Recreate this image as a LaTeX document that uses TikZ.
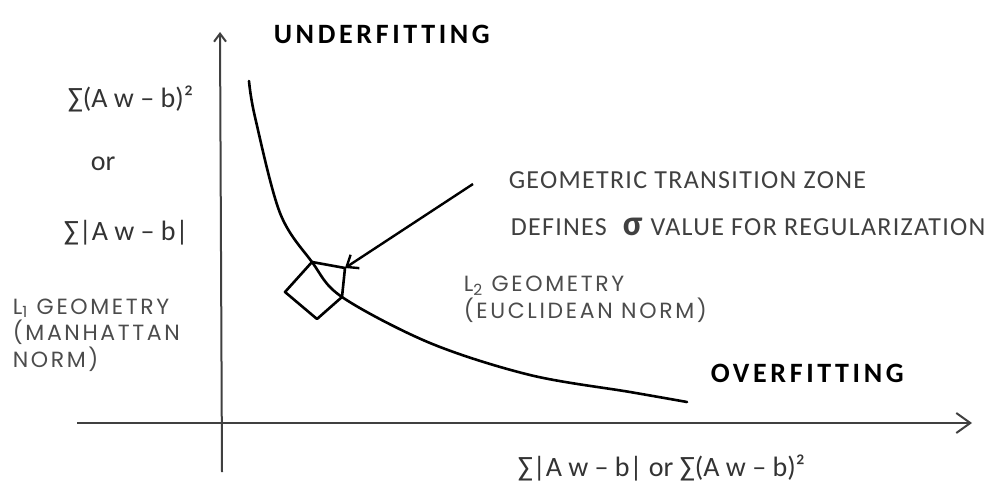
\documentclass[tikz,border=0pt]{standalone}
\usepackage{fontspec}
\setmainfont{Carlito}
\newfontfamily\geomfont{Poppins}
\usetikzlibrary{arrows.meta,positioning}

\begin{document}
\begin{tikzpicture}[x=0.5pt, y=-0.5pt, thick]
    % Stili
    \tikzstyle{axis}=[draw=black!75, line width=1pt]
    \tikzstyle{curve}=[draw=black, line width=1.3pt, line join=round, line cap=round]
    \tikzstyle{pointer}=[draw=black, line width=1.2pt, -{Straight Barb[length=5pt, width=8pt]}]
    \tikzstyle{bigtitle}=[inner sep=0pt, anchor=base west, font=\fontsize{14}{16}\selectfont\bfseries\addfontfeature{LetterSpace=13}]
    \tikzstyle{mathtext}=[inner sep=0pt, anchor=base west, text=black!80, font=\fontsize{14}{16}\selectfont]
    \tikzstyle{note}=[inner sep=0pt, anchor=base west, text=black!75, font=\fontsize{13}{15}\selectfont\addfontfeature{LetterSpace=5}]
    \tikzstyle{geomtext}=[inner sep=0pt, anchor=north west, align=left, text=black!70]

    \useasboundingbox (0,0) rectangle (1001,482);

    % Assi
    \coordinate (xstart) at (77,423);
    \coordinate (xend) at (972,423);
    \coordinate (ybot) at (222,472);
    \coordinate (ytop) at (220,32);
    \draw [axis, -{Straight Barb[length=7pt, width=10pt]}] (xstart) -- (xend);
    \draw [axis, -{Straight Barb[length=4pt, width=6pt]}] (ybot) -- (ytop);

    % Curva
    \draw [curve] plot [smooth, tension=0.55] coordinates {(249,81) (255,117) (280,213) (312,262) (342,297) (430,343) (530,375) (630,392) (687,402)};

    % Geometrie
    \coordinate (dtop) at (312,262);
    \coordinate (dleft) at (285,292);
    \coordinate (dbot) at (317,319);
    \coordinate (dright) at (342,297);
    \coordinate (corner) at (345,268);
    \draw [curve] (dtop) -- (dleft) -- (dbot) -- (dright);
    \draw [curve] (dtop) -- (corner) -- (dright);

    % Etichette
    \node (under) [bigtitle] at (273,43) {UNDERFITTING};
    \node (over) [bigtitle] at (710,382) {OVERFITTING};
    \node (sumsq) [mathtext] at (67,107) {∑(A w – b)²};
    \node (or) [mathtext] at (90,170) {or};
    \node (sumabs) [mathtext] at (63,240) {∑|A w – b|};
    \node (xlabel) [mathtext] at (517,476) {∑|A w – b| or  ∑(A w – b)²};
    \node (zone) [note] at (508,188) {GEOMETRIC TRANSITION ZONE};
    \node (sigma) [note] at (510,235) {DEFINES\hspace{8pt}{\fontsize{18}{18}\selectfont\bfseries σ}\hspace{4pt}VALUE FOR REGULARIZATION};
    \node (lone) [geomtext, font=\geomfont\fontsize{11}{12}\selectfont\addfontfeature{LetterSpace=12}] at (12,298) {L\textsubscript{1} GEOMETRY\\(MANHATTAN\\NORM)};
    \node (ltwo) [geomtext, font=\geomfont\fontsize{11}{13.5}\selectfont\addfontfeature{LetterSpace=12}] at (463,275) {L\textsubscript{2} GEOMETRY\\(EUCLIDEAN NORM)};

    % Collegamenti
    \coordinate (tail) at (473,184);
    \draw [pointer] (tail) -- (corner);

\end{tikzpicture}
\end{document}
